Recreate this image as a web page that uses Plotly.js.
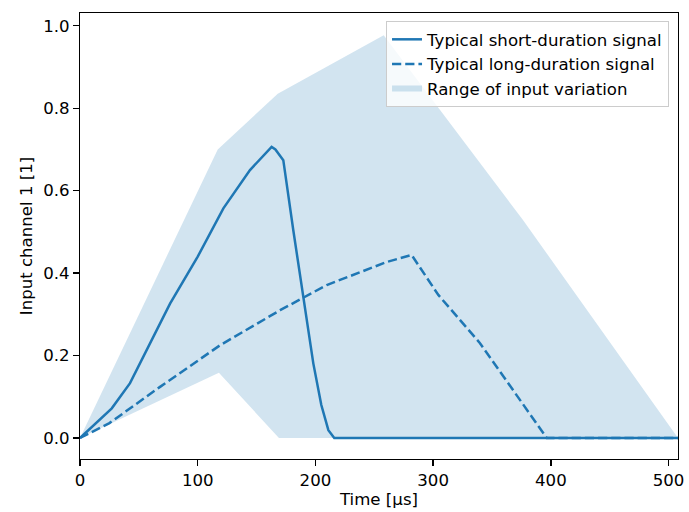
<!DOCTYPE html>
<html>
<head>
<meta charset="utf-8">
<script src="https://cdn.plot.ly/plotly-3.0.1.min.js"></script>
<style>html,body{margin:0;padding:0;background:#fff;}#chart{width:689px;height:512px;}</style>
</head>
<body>
<div id="chart"></div>
<script>
// Typical short-duration signal
const shortX = [0, 27, 42.5, 76.5, 100, 121.8, 144.4, 162.8, 166, 172.7, 181.2, 189.7, 198.2, 205, 211, 216, 508];
const shortY = [0, 0.072, 0.133, 0.326, 0.44, 0.557, 0.65, 0.706, 0.70, 0.674, 0.504, 0.342, 0.181, 0.08, 0.019, 0, 0];

// Typical long-duration signal
const longX = [0, 25, 68, 119, 170, 209.6, 260.6, 281.7, 304.4, 339.8, 396.5, 508];
const longY = [0, 0.036, 0.124, 0.225, 0.31, 0.371, 0.427, 0.444, 0.347, 0.23, 0, 0];

// Range of input variation: upper and lower envelopes
const upperX = [0, 117, 168, 258, 376, 508];
const upperY = [0, 0.70, 0.835, 0.977, 0.53, 0];
const lowerX = [0, 118, 169, 508];
const lowerY = [0, 0.158, 0, 0];

const C0 = '#1f77b4';
const FONT = 'DejaVu Sans, Liberation Sans, sans-serif';
const FS = 16.6;

const polyX = upperX.concat(lowerX.slice().reverse());
const polyY = upperY.concat(lowerY.slice().reverse());

const traces = [
  {
    x: polyX, y: polyY, type: 'scatter', mode: 'none',
    fill: 'toself', fillcolor: 'rgba(31,119,180,0.2)',
    name: 'Range of input variation', legendrank: 1003, hoverinfo: 'skip'
  },
  {
    x: shortX, y: shortY, type: 'scatter', mode: 'lines',
    line: {color: C0, width: 2.5},
    name: 'Typical short-duration signal', legendrank: 1001
  },
  {
    x: longX, y: longY, type: 'scatter', mode: 'lines',
    line: {color: C0, width: 2.5, dash: '9.2px,4px'},
    name: 'Typical long-duration signal', legendrank: 1002
  }
];

const axisCommon = {
  showline: true, linecolor: '#000', linewidth: 1.33, mirror: true,
  ticks: 'outside', ticklen: 5.8, tickwidth: 1.33, tickcolor: '#000',
  showgrid: false, zeroline: false,
  tickfont: {family: FONT, size: FS, color: '#000'},
  automargin: false
};

const layout = {
  width: 689, height: 512,
  margin: {l: 80, r: 11, t: 13, b: 53},
  paper_bgcolor: '#fff', plot_bgcolor: '#fff',
  font: {family: FONT, size: FS, color: '#000'},
  showlegend: true,
  legend: {
    x: 0.985, xanchor: 'right', y: 0.982, yanchor: 'top',
    bgcolor: 'rgba(255,255,255,0.8)', bordercolor: '#cccccc', borderwidth: 1,
    font: {family: FONT, size: FS, color: '#000'},
    tracegroupgap: 0, itemwidth: 30
  },
  xaxis: Object.assign({}, axisCommon, {
    range: [0, 508], tickvals: [0, 100, 200, 300, 400, 500],
    title: {text: 'Time [µs]', font: {family: FONT, size: FS, color: '#000'}, standoff: 1}
  }),
  yaxis: Object.assign({}, axisCommon, {
    range: [-0.051, 1.031], tickvals: [0, 0.2, 0.4, 0.6, 0.8, 1.0], tickformat: '.1f',
    title: {text: 'Input channel 1 [1]', font: {family: FONT, size: FS, color: '#000'}, standoff: 6}
  })
};

Plotly.newPlot('chart', traces, layout, {displayModeBar: false, staticPlot: true});
</script>
</body>
</html>
